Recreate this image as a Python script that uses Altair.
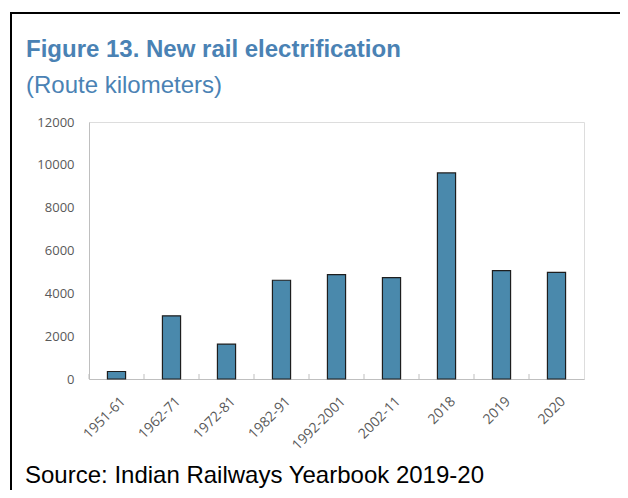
import altair as alt
import pandas as pd

periods = ["1951-61", "1962-71", "1972-81", "1982-91", "1992-2001", "2002-11", "2018", "2019", "2020"]
route_km = [350, 2950, 1630, 4610, 4870, 4730, 9620, 5060, 4980]
y_ticks = [0, 2000, 4000, 6000, 8000, 10000, 12000]
title_text = ["Figure 13. New rail electrification"]
subtitle_text = ["(Route kilometers)"]
source_text = ["Source: Indian Railways Yearbook 2019-20"]

df = pd.DataFrame({"period": periods, "km": route_km})

W, H = 495, 257
BLUE_T = "#4A82B4"
BAR = "#4A89AC"
GREY = "#BFBFBF"
LBL = "#595959"

x_enc = alt.X(
    "period:N",
    sort=periods,
    title=None,
    scale=alt.Scale(paddingInner=0, paddingOuter=0),
    axis=alt.Axis(
        labelAngle=-45,
        labelFont="Open Sans",
        labelFontSize=14,
        labelColor=LBL,
        labelPadding=15,
        labelOffset=2,
        ticks=False,
        tickSize=0,
        domainColor=GREY,
        domainWidth=1,
    ),
)

bars = alt.Chart(df).mark_bar(
    width=alt.RelativeBandSize(0.33),
    color=BAR,
    stroke="#1E1E1E",
    strokeWidth=1.2,
).encode(
    x=x_enc,
    y=alt.Y(
        "km:Q",
        title=None,
        scale=alt.Scale(domain=[0, 12000], nice=False),
        axis=alt.Axis(
            values=y_ticks,
            format="d",
            grid=False,
            ticks=False,
            tickSize=0,
            labelFont="Open Sans",
            labelFontSize=13,
            labelColor=LBL,
            labelPadding=15,
            domainColor=GREY,
        ),
    ),
)

ticks = alt.Chart(df).mark_rule(color=GREY, strokeWidth=1).encode(
    x=alt.X("period:N", sort=periods, bandPosition=0),
    y=alt.value(H - 5),
    y2=alt.value(H),
)

one = pd.DataFrame({"a": [0]})

frame_v = alt.Chart(one).mark_rule(color="black", strokeWidth=2).encode(
    x=alt.value(-78), y=alt.value(-109), y2=alt.value(368)
)
frame_h = alt.Chart(one).mark_rule(color="black", strokeWidth=2).encode(
    x=alt.value(-79), x2=alt.value(531), y=alt.value(-109)
)

title = alt.Chart(pd.DataFrame({"t": title_text})).mark_text(
    align="left", baseline="alphabetic", font="Liberation Sans",
    fontWeight="bold", fontSize=24, color=BLUE_T,
).encode(x=alt.value(-63), y=alt.value(-65), text="t:N")

subtitle = alt.Chart(pd.DataFrame({"t": subtitle_text})).mark_text(
    align="left", baseline="alphabetic", font="Liberation Sans",
    fontSize=24, color=BLUE_T,
).encode(x=alt.value(-63), y=alt.value(-29), text="t:N")

source = alt.Chart(pd.DataFrame({"t": source_text})).mark_text(
    align="left", baseline="alphabetic", font="Liberation Sans",
    fontSize=24, color="black",
).encode(x=alt.value(-64), y=alt.value(361), text="t:N")

chart = alt.layer(
    bars, ticks, frame_v, frame_h, title, subtitle, source
).properties(
    width=W,
    height=H,
    padding={"left": 81, "top": 114, "right": 36, "bottom": 111},
    autosize=alt.AutoSizeParams(type="none"),
).configure_view(
    stroke=GREY, strokeWidth=1
).configure(background="white")

chart.save("out.html", embed_options={"renderer": "svg", "actions": False})
